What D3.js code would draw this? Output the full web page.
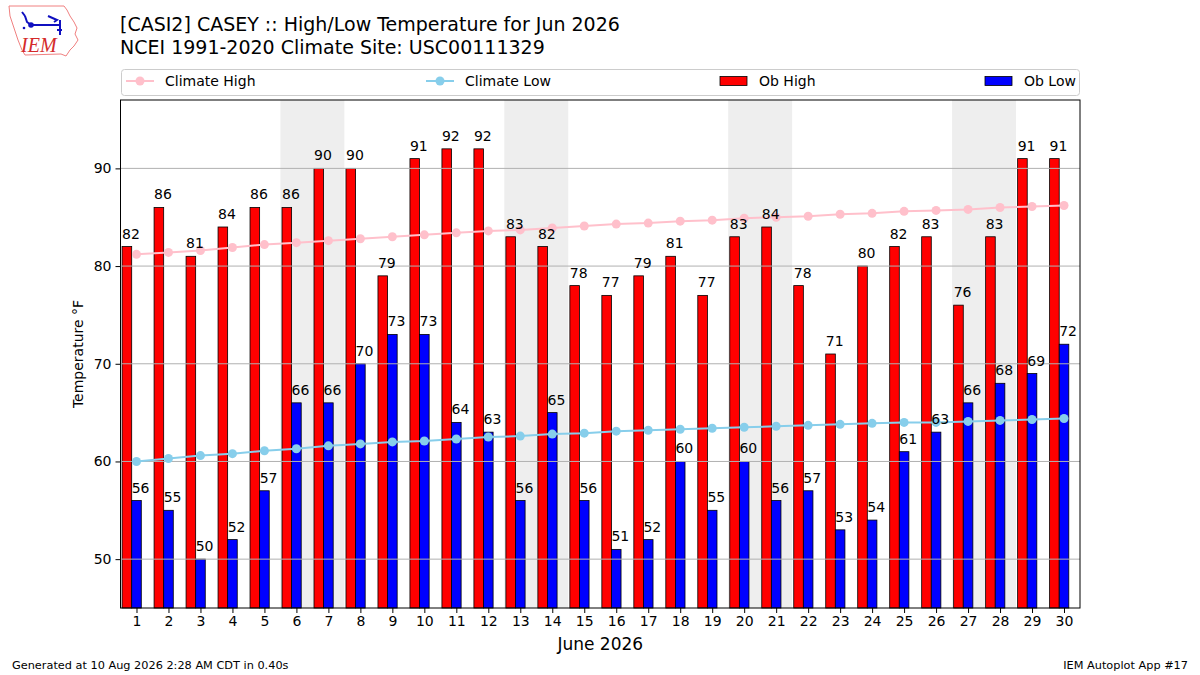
<!DOCTYPE html>
<html><head><meta charset="utf-8">
<script src="https://cdn.jsdelivr.net/npm/d3@7"></script>
<style>body{margin:0;background:#fff;} svg{display:block;font-family:"DejaVu Sans",sans-serif;}</style>
</head><body>
<svg id="chart" width="1200" height="675"></svg>
<script>
const days = d3.range(1, 31);
const obHigh = [82,86,81,84,86,86,90,90,79,91,92,92,83,82,78,77,79,81,77,83,84,78,71,80,82,83,76,83,91,91];
const obLow  = [56,55,50,52,57,66,66,70,73,73,64,63,56,65,56,51,52,60,55,60,56,57,53,54,61,63,66,68,69,72];
const climHigh = [81.2,81.4,81.6,81.9,82.2,82.4,82.6,82.8,83.0,83.2,83.4,83.6,83.7,83.9,84.1,84.3,84.4,84.6,84.7,84.9,85.0,85.1,85.3,85.4,85.6,85.7,85.8,86.0,86.1,86.2];
const climLow  = [60.0,60.3,60.6,60.8,61.1,61.3,61.6,61.8,62.0,62.1,62.3,62.5,62.6,62.8,62.9,63.1,63.2,63.3,63.4,63.5,63.6,63.7,63.8,63.9,64.0,64.0,64.1,64.2,64.3,64.4];
const weekendStarts = [6,13,20,27]; // Saturday of each weekend (Sat+Sun shaded)
const yTicks = [50,60,70,80,90];
const titleLines = ["[CASI2] CASEY :: High/Low Temperature for Jun 2026", "NCEI 1991-2020 Climate Site: USC00111329"];
const xLabel = "June 2026";
const yLabel = "Temperature °F";
const footerLeft = "Generated at 10 Aug 2026 2:28 AM CDT in 0.40s";
const footerRight = "IEM Autoplot App #17";

const svg = d3.select("#chart");
const L = 120.5, R = 1080, T = 100, B = 608;
const x = d3.scaleLinear().domain([0.5, 30.5]).range([L, R]);
const y = d3.scaleLinear().domain([45, 97]).range([B, T]);
const bw = x(0.3) - x(0);

// weekend shading
svg.append("g").selectAll("rect").data(weekendStarts).join("rect")
  .attr("x", d => x(d - 0.5)).attr("width", x(2) - x(0))
  .attr("y", T).attr("height", B - T).attr("fill", "#eeeeee");

// bars
const g = svg.append("g");
g.selectAll("rect.hi").data(days).join("rect").attr("class","hi")
  .attr("x", d => x(d - 0.45)).attr("width", bw)
  .attr("y", (d,i) => y(obHigh[i])).attr("height", (d,i) => B - y(obHigh[i]))
  .attr("fill", "#ff0000").attr("stroke", "#000").attr("stroke-width", 0.8);
g.selectAll("rect.lo").data(days).join("rect").attr("class","lo")
  .attr("x", d => x(d - 0.15)).attr("width", bw)
  .attr("y", (d,i) => y(obLow[i])).attr("height", (d,i) => B - y(obLow[i]))
  .attr("fill", "#0000ff").attr("stroke", "#000").attr("stroke-width", 0.8);

// grid
svg.append("g").selectAll("line").data(yTicks).join("line")
  .attr("x1", L).attr("x2", R).attr("y1", d => y(d)).attr("y2", d => y(d))
  .attr("stroke", "#b0b0b0").attr("stroke-width", 1);

// climate lines
function climLine(vals, color) {
  const line = d3.line().x((d,i) => x(days[i])).y(d => y(d));
  svg.append("path").datum(vals).attr("d", line).attr("fill","none")
    .attr("stroke", color).attr("stroke-width", 2);
  svg.append("g").selectAll("circle").data(vals).join("circle")
    .attr("cx", (d,i) => x(days[i])).attr("cy", d => y(d)).attr("r", 4.5).attr("fill", color);
}
climLine(climHigh, "#ffc0cb");
climLine(climLow, "#87ceeb");

// labels
const lab = svg.append("g").attr("font-size", "14px").attr("fill", "#000");
lab.selectAll("text.hi").data(days).join("text")
  .attr("x", d => x(d - 0.45)).attr("y", (d,i) => y(obHigh[i]) - 8)
  .text((d,i) => obHigh[i]);
lab.selectAll("text.lo").data(days).join("text")
  .attr("x", d => x(d - 0.15)).attr("y", (d,i) => y(obLow[i]) - 8)
  .text((d,i) => obLow[i]);

// frame
svg.append("rect").attr("x", L).attr("y", T).attr("width", R - L).attr("height", B - T)
  .attr("fill", "none").attr("stroke", "#000").attr("stroke-width", 1);

// axes
const xAxis = svg.append("g").attr("transform", `translate(0,${B})`)
  .call(d3.axisBottom(x).tickValues(days).tickSize(5).tickPadding(3).tickFormat(d3.format("d")));
const yAxis = svg.append("g").attr("transform", `translate(${L},0)`)
  .call(d3.axisLeft(y).tickValues(yTicks).tickSize(5).tickPadding(4).tickFormat(d3.format("d")));
[xAxis, yAxis].forEach(a => {
  a.select(".domain").remove();
  a.selectAll("text").attr("font-size", "14px").attr("font-family", "DejaVu Sans").attr("fill", "#000");
  a.selectAll("line").attr("stroke", "#000");
});

svg.append("text").attr("x", (L + R) / 2).attr("y", 650).attr("text-anchor", "middle")
  .attr("font-size", "17px").text(xLabel);
svg.append("text").attr("transform", `translate(83,${(T + B) / 2}) rotate(-90)`)
  .attr("text-anchor", "middle").attr("font-size", "14px").text(yLabel);

// title
svg.append("g").selectAll("text").data(titleLines).join("text")
  .attr("x", 120).attr("y", (d,i) => 31 + i * 23).attr("font-size", "19px").text(d => d);

// legend
const lg = svg.append("g");
lg.append("rect").attr("x", 121.5).attr("y", 69.5).attr("width", 958).attr("height", 26)
  .attr("rx", 3).attr("fill", "#fff").attr("stroke", "#cccccc");
const legItems = [
  {type:"line", color:"#ffc0cb", label:"Climate High", x:126},
  {type:"line", color:"#87ceeb", label:"Climate Low", x:426},
  {type:"rect", color:"#ff0000", label:"Ob High", x:720},
  {type:"rect", color:"#0000ff", label:"Ob Low", x:985}
];
legItems.forEach(it => {
  if (it.type === "line") {
    lg.append("line").attr("x1", it.x).attr("x2", it.x + 28).attr("y1", 81).attr("y2", 81)
      .attr("stroke", it.color).attr("stroke-width", 2);
    lg.append("circle").attr("cx", it.x + 14).attr("cy", 81).attr("r", 4.5).attr("fill", it.color);
  } else {
    lg.append("rect").attr("x", it.x).attr("y", 76.5).attr("width", 27).attr("height", 9)
      .attr("fill", it.color).attr("stroke", "#000").attr("stroke-width", 0.8);
  }
  lg.append("text").attr("x", it.x + 39).attr("y", 86).attr("font-size", "14px").text(it.label);
});

// footer
svg.append("text").attr("x", 12).attr("y", 669).attr("font-size", "11.3px").text(footerLeft);
svg.append("text").attr("x", 1188).attr("y", 669).attr("font-size", "11.3px").attr("text-anchor", "end").text(footerRight);

// logo
const logo = svg.append("g");
logo.append("path").attr("d", "M9,6 L64,6 L67,10 L70,16 L74,22 L77,28 L75,34 L78,40 L74,46 L70,50 L66,56 L61,54 L25,55 L22,50 L18,40 L14,28 L10,16 Z")
  .attr("fill", "none").attr("stroke", "#f08080").attr("stroke-width", 1);
logo.append("path").attr("d", "M22,12 L25,16 M25,16 L27,22 L31,25 M31,25 L60,25 M48,16 L57,20 L54,22 M60,20 L60,35 M57,30 L62,30")
  .attr("fill", "none").attr("stroke", "#1010c0").attr("stroke-width", 2);
logo.append("circle").attr("cx", 31).attr("cy", 25).attr("r", 2.8).attr("fill", "#1010c0");
logo.append("circle").attr("cx", 24).attr("cy", 28).attr("r", 1.3).attr("fill", "#1010c0");
logo.append("text").attr("x", 21).attr("y", 52).attr("font-family", "Liberation Serif").attr("font-style", "italic")
  .attr("font-size", "20px").attr("fill", "#d42a2a").text("IEM");
</script>
</body></html>
